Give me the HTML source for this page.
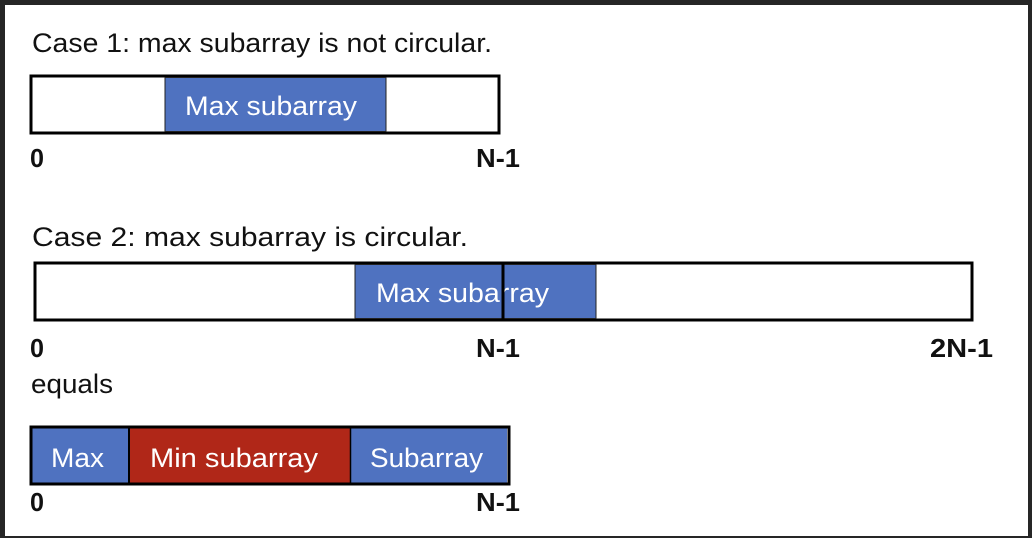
<!DOCTYPE html>
<html><head><meta charset="utf-8"><style>
html,body{margin:0;padding:0;background:#262626;}
svg{display:block;font-family:"Liberation Sans",sans-serif;}
</style></head><body>
<svg width="1032" height="538" viewBox="0 0 1032 538">
<rect x="0" y="0" width="1032" height="538" fill="#262626"/>
<rect x="5" y="5" width="1023" height="531" fill="#ffffff"/>

<g>
<text x="32" y="52" font-size="27" fill="#111" textLength="460" lengthAdjust="spacingAndGlyphs">Case 1: max subarray is not circular.</text>
<rect x="31" y="76" width="468" height="57" fill="#fff" stroke="#000" stroke-width="3"/>
<rect x="165" y="77.5" width="221" height="54" fill="#4f72c0" stroke="#222" stroke-width="1"/>
<text x="185" y="115" font-size="27" fill="#fff" textLength="172" lengthAdjust="spacingAndGlyphs">Max subarray</text>
<text x="30" y="167" font-size="26" font-weight="bold" fill="#111" textLength="14" lengthAdjust="spacingAndGlyphs">0</text>
<text x="476" y="167" font-size="26" font-weight="bold" fill="#111" textLength="44" lengthAdjust="spacingAndGlyphs">N-1</text>
</g>

<g>
<text x="32" y="246" font-size="27" fill="#111" textLength="436" lengthAdjust="spacingAndGlyphs">Case 2: max subarray is circular.</text>
<rect x="35" y="263" width="937" height="57" fill="#fff" stroke="#000" stroke-width="3"/>
<rect x="355" y="264.5" width="241" height="54" fill="#4f72c0" stroke="#222" stroke-width="1"/>
<text x="376" y="302" font-size="27" fill="#fff" textLength="173" lengthAdjust="spacingAndGlyphs">Max subarray</text>
<line x1="503" y1="263" x2="503" y2="320" stroke="#000" stroke-width="3"/>
<text x="30" y="357" font-size="26" font-weight="bold" fill="#111" textLength="14" lengthAdjust="spacingAndGlyphs">0</text>
<text x="476" y="357" font-size="26" font-weight="bold" fill="#111" textLength="44" lengthAdjust="spacingAndGlyphs">N-1</text>
<text x="930" y="357" font-size="26" font-weight="bold" fill="#111" textLength="63" lengthAdjust="spacingAndGlyphs">2N-1</text>
<text x="31" y="393" font-size="27" fill="#111" textLength="82" lengthAdjust="spacingAndGlyphs">equals</text>
</g>

<g>
<rect x="31" y="427" width="478" height="57" fill="#fff" stroke="#000" stroke-width="3"/>
<rect x="32.5" y="428.5" width="96" height="54" fill="#4f72c0"/>
<rect x="130" y="428.5" width="220" height="54" fill="#b02718"/>
<rect x="351" y="428.5" width="156" height="54" fill="#4f72c0"/>
<line x1="129" y1="427" x2="129" y2="484" stroke="#000" stroke-width="2"/>
<line x1="350.5" y1="427" x2="350.5" y2="484" stroke="#000" stroke-width="1.5"/>
<text x="51" y="467" font-size="27" fill="#fff" textLength="53" lengthAdjust="spacingAndGlyphs">Max</text>
<text x="150" y="467" font-size="27" fill="#fff" textLength="168" lengthAdjust="spacingAndGlyphs">Min subarray</text>
<text x="370" y="467" font-size="27" fill="#fff" textLength="113" lengthAdjust="spacingAndGlyphs">Subarray</text>
<text x="30" y="511" font-size="26" font-weight="bold" fill="#111" textLength="14" lengthAdjust="spacingAndGlyphs">0</text>
<text x="476" y="511" font-size="26" font-weight="bold" fill="#111" textLength="44" lengthAdjust="spacingAndGlyphs">N-1</text>
</g>
</svg>
</body></html>
